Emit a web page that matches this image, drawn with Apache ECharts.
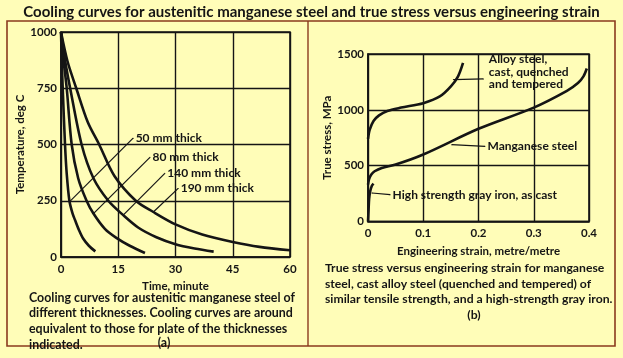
<!DOCTYPE html>
<html><head><meta charset="utf-8">
<script src="https://cdn.jsdelivr.net/npm/echarts@6/dist/echarts.min.js"></script>
<style>html,body{margin:0;padding:0;background:#FFFDB8;}#c{width:623px;height:358px;}</style>
</head><body><div id="c"></div>
<script>
// ---- Data: left chart (cooling curves) [time min, temperature degC]
const timeTicks = [0, 15, 30, 45, 60];
const tempTicks = [0, 250, 500, 750, 1000];
const curve50 = [[0,1000],[0.2,880],[0.45,750],[1.05,500],[1.5,370],[2.2,250],[3,195],[3.7,163],[4.7,120],[5.8,82],[7.3,50],[9,25]];
const curve80 = [[0,1000],[0.7,870],[1.5,750],[2.8,500],[4.5,350],[6.7,250],[8.5,193],[11.5,125],[14.5,85],[18,50],[22,18]];
const curve140 = [[0,1000],[1.1,870],[2.4,750],[5.4,500],[8.5,350],[12.4,250],[16.3,186],[20.3,130],[25,88],[30,57],[35,38],[40,24]];
const curve190 = [[0,1000],[1.7,870],[4,750],[7,600],[10,500],[14,360],[19.6,250],[24.2,200],[30,145],[37,100],[45,67],[52,45],[60,30]];
const leader50 = [[18.9,528],[2.4,248]];
const leader80 = [[23.3,443],[8.5,193]];
const leader140 = [[27.2,372],[16.3,186]];
const leader190 = [[30.7,305],[24.2,200]];
const curveNames = ['50 mm thick','80 mm thick','140 mm thick','190 mm thick'];

// ---- Data: right chart (true stress vs engineering strain) [strain, MPa]
const strainTicks = [0, 0.1, 0.2, 0.3, 0.4];
const stressTicks = [0, 500, 1000, 1500];
const alloySteel = [[0,740],[0.003,820],[0.01,900],[0.02,950],[0.035,990],[0.06,1020],[0.1,1060],[0.13,1120],[0.15,1210],[0.163,1300],[0.172,1420]];
const manganeseSteel = [[0,330],[0.002,380],[0.006,420],[0.012,450],[0.025,480],[0.05,510],[0.1,600],[0.2,830],[0.3,1020],[0.36,1170],[0.38,1240],[0.39,1300],[0.396,1370]];
const grayIron = [[0,0],[0.001,100],[0.002,200],[0.004,270],[0.007,320],[0.01,340]];
const leaderAlloy = [[0.2087,1277],[0.1545,1271]];
const leaderMn = [[0.2117,673],[0.1516,688]];
const leaderGray = [[0.04,240],[0.0072,255]];
const rightNames = ['Alloy steel,\ncast, quenched\nand tempered','Manganese steel','High strength gray iron, as cast'];

const INK = '#151515';
const FONT = 'Lato';
const chart = echarts.init(document.getElementById('c'));

function curve(data, xi){
  return {type:'line', xAxisIndex:xi, yAxisIndex:xi, data:data, smooth:0.3, showSymbol:false, silent:true,
    lineStyle:{color:INK, width:2.6}, z:3};
}
function leader(data, xi, name, offset){
  return {type:'line', xAxisIndex:xi, yAxisIndex:xi, silent:true, symbol:'circle', symbolSize:1, showSymbol:true,
    itemStyle:{color:INK}, lineStyle:{color:INK, width:1.2}, z:4,
    data:[{value:data[0], label:{show:true, position:'right', distance:2, offset:offset||[0,0], formatter:name,
      color:INK, fontFamily:FONT, fontWeight:'bold', fontSize:12, lineHeight:12.5}}, {value:data[1]}]};
}
const axisLbl = {color:INK, fontFamily:FONT, fontWeight:'bold', fontSize:11.5, formatter:function(v){return String(v);}};
const nameTS = {color:INK, fontFamily:FONT, fontWeight:'bold', fontSize:11.5};
const split = {show:true, lineStyle:{color:INK, width:1.4}};

chart.setOption({
  backgroundColor:'#FFFDB8',
  animation:false,
  title:{text:'Cooling curves for austenitic manganese steel and true stress versus engineering strain',
    left:'center', top:0, textStyle:{color:INK, fontFamily:FONT, fontWeight:'bold', fontSize:15}},
  grid:[
    {left:61, top:32, width:229, height:225, show:true, borderColor:INK, borderWidth:1.6, backgroundColor:'transparent'},
    {left:368, top:54, width:221, height:167.5, show:true, borderColor:INK, borderWidth:1.6, backgroundColor:'transparent'}
  ],
  xAxis:[
    {type:'value', gridIndex:0, min:timeTicks[0], max:timeTicks[timeTicks.length-1], interval:15,
     axisLine:{lineStyle:{color:INK,width:1.6}}, axisTick:{show:false}, splitLine:split,
     axisLabel:Object.assign({margin:6}, axisLbl),
     name:'Time, minute', nameLocation:'middle', nameGap:17, nameTextStyle:nameTS},
    {type:'value', gridIndex:1, min:strainTicks[0], max:strainTicks[strainTicks.length-1], interval:0.1,
     axisLine:{lineStyle:{color:INK,width:1.6}}, axisTick:{show:false}, splitLine:split,
     axisLabel:Object.assign({margin:6}, axisLbl),
     name:'Engineering strain, metre/metre', nameLocation:'middle', nameGap:24, nameTextStyle:nameTS}
  ],
  yAxis:[
    {type:'value', gridIndex:0, min:tempTicks[0], max:tempTicks[tempTicks.length-1], interval:250,
     axisLine:{lineStyle:{color:INK,width:1.6}}, axisTick:{show:false}, splitLine:split,
     axisLabel:Object.assign({margin:4}, axisLbl),
     name:'Temperature, deg C', nameLocation:'middle', nameGap:28, nameTextStyle:nameTS},
    {type:'value', gridIndex:1, min:stressTicks[0], max:stressTicks[stressTicks.length-1], interval:500,
     axisLine:{lineStyle:{color:INK,width:1.6}}, axisTick:{show:false}, splitLine:split,
     axisLabel:Object.assign({margin:4}, axisLbl),
     name:'True stress, MPa', nameLocation:'middle', nameGap:34, nameTextStyle:nameTS}
  ],
  series:[
    curve(curve50,0), curve(curve80,0), curve(curve140,0), curve(curve190,0),
    leader(leader50,0,curveNames[0]), leader(leader80,0,curveNames[1]),
    leader(leader140,0,curveNames[2]), leader(leader190,0,curveNames[3]),
    curve(alloySteel,1), curve(manganeseSteel,1), curve(grayIron,1),
    leader(leaderAlloy,1,rightNames[0],[3,-7]), leader(leaderMn,1,rightNames[1]), leader(leaderGray,1,rightNames[2])
  ],
  graphic:[
    {type:'rect', shape:{x:7,y:21,width:608,height:325}, style:{fill:'none', stroke:'#8B3A1E', lineWidth:1.6}, silent:true},
    {type:'line', shape:{x1:308,y1:21,x2:308,y2:346}, style:{stroke:'#8B3A1E', lineWidth:1.4}, silent:true},
    {type:'text', x:29, y:290, style:{text:'Cooling curves for austenitic manganese steel of\ndifferent thicknesses. Cooling curves are around\nequivalent to those for plate of the thicknesses\nindicated.',
      fill:INK, font:'bold 12.4px Lato', lineHeight:15.6}},
    {type:'text', x:164, y:337, style:{text:'(a)', fill:INK, font:'bold 12.4px Lato', align:'center'}},
    {type:'text', x:325, y:260, style:{text:'True stress versus engineering strain for manganese\nsteel, cast alloy steel (quenched and tempered) of\nsimilar tensile strength, and a high-strength gray iron.',
      fill:INK, font:'bold 12.2px Lato', lineHeight:15.8}},
    {type:'text', x:474, y:309, style:{text:'(b)', fill:INK, font:'bold 12.2px Lato', align:'center'}}
  ]
});
</script></body></html>
